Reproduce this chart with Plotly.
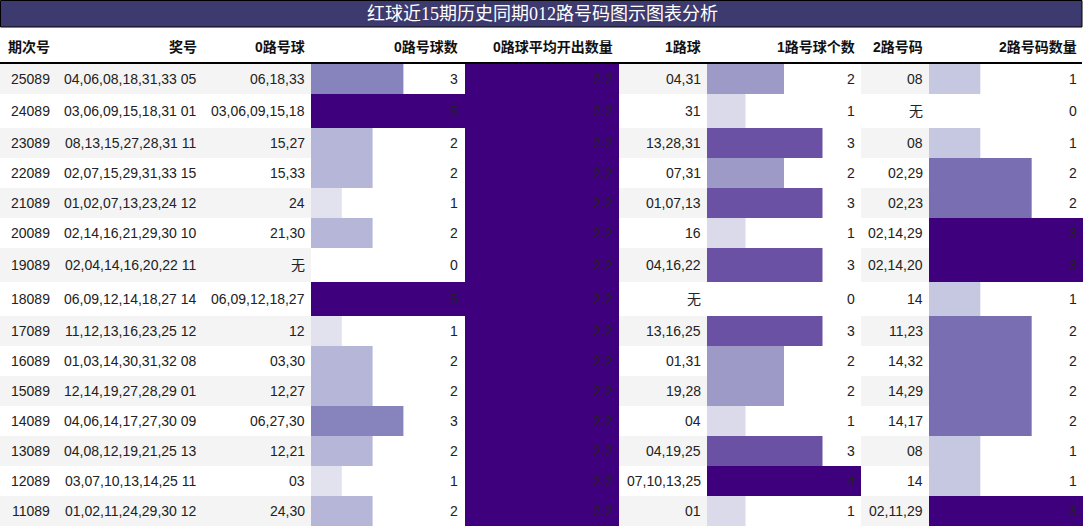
import plotly.graph_objects as go

# data
qici = ['25089', '24089', '23089', '22089', '21089', '20089', '19089', '18089',
        '17089', '16089', '15089', '14089', '13089', '12089', '11089']
jianghao = ['04,06,08,18,31,33 05', '03,06,09,15,18,31 01', '08,13,15,27,28,31 11',
            '02,07,15,29,31,33 15', '01,02,07,13,23,24 12', '02,14,16,21,29,30 10',
            '02,04,14,16,20,22 11', '06,09,12,14,18,27 14', '11,12,13,16,23,25 12',
            '01,03,14,30,31,32 08', '12,14,19,27,28,29 01', '04,06,14,17,27,30 09',
            '04,08,12,19,21,25 13', '03,07,10,13,14,25 11', '01,02,11,24,29,30 12']
lu0_balls = ['06,18,33', '03,06,09,15,18', '15,27', '15,33', '24', '21,30', '无',
             '06,09,12,18,27', '12', '03,30', '12,27', '06,27,30', '12,21', '03', '24,30']
lu0_count = [3, 5, 2, 2, 1, 2, 0, 5, 1, 2, 2, 3, 2, 1, 2]
lu0_avg = [2.2, 2.2, 2.2, 2.2, 2.2, 2.2, 2.2, 2.2, 2.2, 2.2, 2.2, 2.2, 2.2, 2.2, 2.2]
lu1_balls = ['04,31', '31', '13,28,31', '07,31', '01,07,13', '16', '04,16,22', '无',
             '13,16,25', '01,31', '19,28', '04', '04,19,25', '07,10,13,25', '01']
lu1_count = [2, 1, 3, 2, 3, 1, 3, 0, 3, 2, 2, 1, 3, 4, 1]
lu2_balls = ['08', '无', '08', '02,29', '02,23', '02,14,29', '02,14,20', '14', '11,23',
             '14,32', '14,29', '14,17', '08', '14', '02,11,29']
lu2_count = [1, 0, 1, 2, 2, 3, 3, 1, 2, 2, 2, 2, 1, 1, 3]

headers = ['期次号', '奖号', '0路号球', '0路号球数', '0路球平均开出数量',
           '1路球', '1路号球个数', '2路号码', '2路号码数量']
title = '红球近15期历史同期012路号码图示图表分析'

W, H = 1084, 527
TABLE_R = 1082
HEAD_Y = 47
TOP = 64
FONT = 'Liberation Sans, Arial, Noto Sans CJK SC, sans-serif'
TXT = '#222222'

# row geometry (rows holding CJK "无" render taller)
heights, centers = [], []
y = TOP
for i in range(len(qici)):
    has_cjk = '无' in (lu0_balls[i], lu1_balls[i], lu2_balls[i])
    h = 34 if has_cjk else 30
    heights.append(h)
    centers.append(y + h / 2)
    y += h

fig = go.Figure()

# bar columns: (values, x-range start, end, axis max)
bar_cols = [
    (lu0_count, 311, 465, 5, 'x2'),
    (lu0_avg, 465, 619, 2.2, 'x3'),
    (lu1_count, 707, 861, 4, 'x4'),
    (lu2_count, 929, 1083, 3, 'x5'),
]
for vals, x0, x1, vmax, ax in bar_cols:
    fig.add_trace(go.Bar(
        x=vals, y=centers, width=heights, base=0, orientation='h',
        xaxis=ax, yaxis='y',
        marker=dict(color=vals, colorscale='Purples', cmin=0, cmax=vmax, line=dict(width=0)),
        showlegend=False, hoverinfo='skip'))

# text columns: right edge of each column's text
col_right = [52, 199, 307, 460, 615, 703, 857, 925, 1079]
col_text = [qici, jianghao, lu0_balls, lu0_count, lu0_avg,
            lu1_balls, lu1_count, lu2_balls, lu2_count]

annotations = []
for xr, hd in zip(col_right, headers):
    annotations.append(dict(x=xr, y=HEAD_Y, xref='x', yref='y', text='<b>%s</b>' % hd,
                            showarrow=False, xanchor='right', yanchor='middle',
                            font=dict(family=FONT, size=14, color='#111111')))
for xr, vals in zip(col_right, col_text):
    for yc, v in zip(centers, vals):
        annotations.append(dict(x=xr, y=yc, xref='x', yref='y', text=str(v),
                                showarrow=False, xanchor='right', yanchor='middle',
                                font=dict(family=FONT, size=14, color=TXT)))
annotations.append(dict(x=542, y=14, xref='x', yref='y', text=title, showarrow=False,
                        xanchor='center', yanchor='middle',
                        font=dict(family='Liberation Serif, Noto Sans CJK SC, serif',
                                  size=18, color='white')))

shapes = []
for i, (yc, h) in enumerate(zip(centers, heights)):
    shapes.append(dict(type='rect', xref='x', yref='y', x0=0, x1=TABLE_R,
                       y0=yc - h / 2, y1=yc + h / 2, layer='below',
                       fillcolor='#f4f4f4' if i % 2 == 0 else 'white', line=dict(width=0)))
shapes.append(dict(type='rect', xref='x', yref='y', x0=0.5, x1=TABLE_R, y0=0.5, y1=27,
                   fillcolor='#3c3a6e', line=dict(color='black', width=1)))
shapes.append(dict(type='line', xref='x', yref='y', x0=0, x1=TABLE_R, y0=63, y1=63,
                   line=dict(color='black', width=2)))

hidden = dict(visible=False, fixedrange=True, showgrid=False, zeroline=False)
layout_axes = dict(
    xaxis=dict(range=[0, W], domain=[0, 1], **hidden),
    yaxis=dict(range=[H, 0], domain=[0, 1], **hidden),
)
for k, (vals, x0, x1, vmax, ax) in enumerate(bar_cols):
    layout_axes['xaxis%d' % (k + 2)] = dict(range=[0, vmax], domain=[x0 / W, x1 / W],
                                            anchor='y', **hidden)

fig.update_layout(
    width=W, height=H, margin=dict(l=0, r=0, t=0, b=0),
    paper_bgcolor='white', plot_bgcolor='white',
    barmode='overlay', annotations=annotations, shapes=shapes,
    **layout_axes)

# page body has a default 8px margin; drop it so the figure sits at 0,0
fig.write_html('out.html', config={'displayModeBar': False},
               post_script="document.body.style.margin='0';document.body.style.overflow='hidden';")
